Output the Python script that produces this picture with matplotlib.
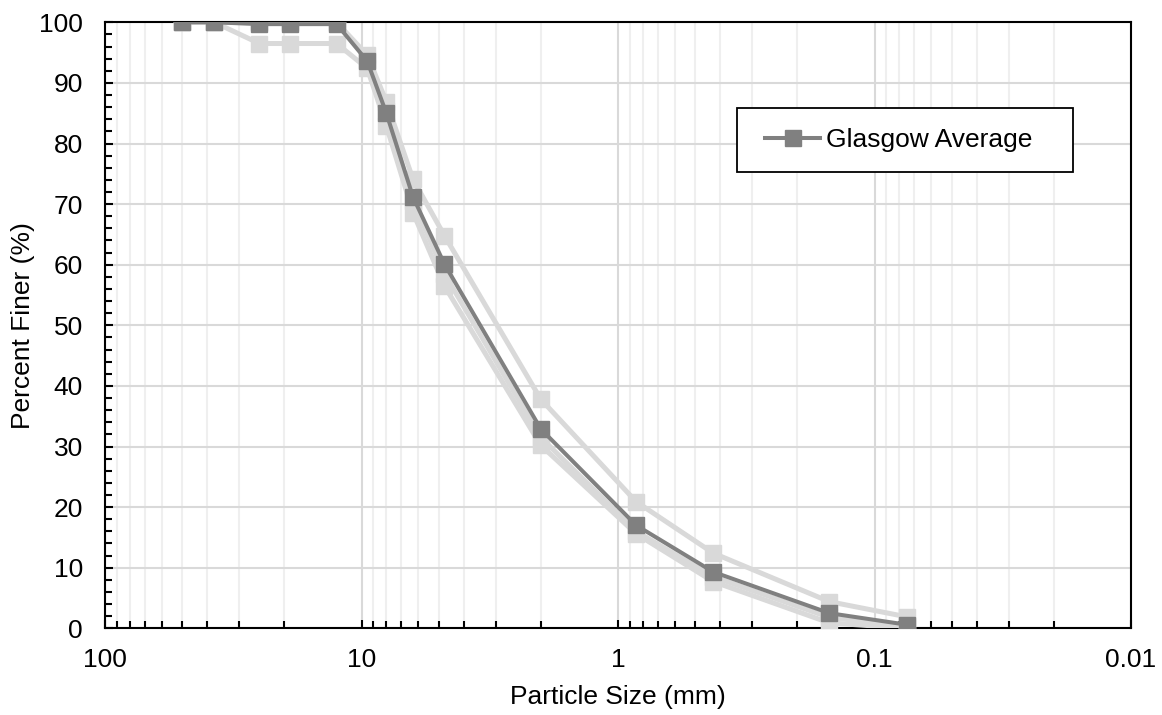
import numpy as np
import matplotlib.pyplot as plt
from matplotlib.patches import Rectangle
from matplotlib.ticker import LogLocator, NullFormatter, FixedLocator, FixedFormatter

plt.rcParams["font.family"] = ["Liberation Sans", "DejaVu Sans"]

# sieve sizes (mm)
sizes = [50, 37.5, 25, 19, 12.5, 9.5, 8, 6.3, 4.75, 2, 0.85, 0.425, 0.15, 0.075]

# individual samples (light grey)
sample_upper = [100, 100, 100, 100, 100, 94.6, 86.9, 74.1, 64.8, 37.8, 20.9, 12.4, 4.4, 1.9]
sample_lower = [100, 100, 96.5, 96.5, 96.5, 92.4, 82.9, 68.6, 56.5, 30.2, 15.6, 7.7, 0.9, 0.0]
sample_mid = [100, 100, 100, 100, 100, 93.8, 85.3, 70.5, 58.5, 31.5, 16.0, 8.5, 1.8, 0.3]

# average curve
glasgow_avg = [100, 100, 99.7, 99.7, 99.7, 93.6, 85.0, 71.2, 60.1, 32.9, 17.0, 9.3, 2.5, 0.6]

x_major = [100, 10, 1, 0.1, 0.01]
x_major_labels = ["100", "10", "1", "0.1", "0.01"]

light = "#d9d9d9"
dark = "#808080"
FS = 19


def main():
    fig = plt.figure(figsize=(11.62, 7.15), dpi=100)
    ax = fig.add_axes([105 / 1162, 86.7 / 715, 1026 / 1162, 606 / 715])

    for s in (sample_lower, sample_mid, sample_upper):
        ax.plot(sizes, s, color=light, lw=3.6, marker="s", ms=11.5,
                mfc=light, mec=light, zorder=3)

    ax.plot(sizes, glasgow_avg, color=dark, lw=2.9, marker="s", ms=11,
            mfc=dark, mec=dark, zorder=4, label="Glasgow Average")

    ax.set_xscale("log")
    ax.set_xlim(100, 0.01)
    ax.set_ylim(0, 100)

    ax.xaxis.set_major_locator(FixedLocator(x_major))
    ax.xaxis.set_major_formatter(FixedFormatter(x_major_labels))
    ax.xaxis.set_minor_locator(LogLocator(base=10, subs=np.arange(2, 10), numticks=20))
    ax.xaxis.set_minor_formatter(NullFormatter())
    ax.set_yticks(np.arange(0, 101, 10))
    ax.set_yticks(np.arange(0, 101, 2), minor=True)

    ax.grid(True, which="major", color="#d9d9d9", lw=1.5, zorder=0)
    ax.grid(True, which="minor", axis="x", color="#efefef", lw=1.5, zorder=0)
    ax.set_axisbelow(True)

    ax.tick_params(axis="both", which="both", direction="in", color="black",
                   labelsize=FS, top=False, right=False)
    ax.tick_params(axis="both", which="major", length=6, width=1.5)
    ax.tick_params(axis="both", which="minor", length=5, width=1.5)
    ax.tick_params(axis="x", which="major", pad=14)
    ax.tick_params(axis="y", which="major", pad=16)

    for sp in ax.spines.values():
        sp.set_color("black")
        sp.set_linewidth(1.5)

    ax.set_xlabel("Particle Size (mm)", fontsize=FS)
    ax.set_ylabel("Percent Finer (%)", fontsize=FS)
    ax.xaxis.set_label_coords(0.5, -0.093)
    ax.yaxis.set_label_coords(-0.068, 0.5)

    # legend box, drawn separately for Excel-like padding
    box = Rectangle((737 / 1162, 1 - 172 / 715), 336 / 1162, 64 / 715,
                    transform=fig.transFigure, facecolor="white",
                    edgecolor="black", lw=1.3, zorder=5, clip_on=False)
    ax.add_patch(box)
    leg = ax.legend(loc="center left", bbox_to_anchor=(765 / 1162, 1 - 140 / 715),
                    bbox_transform=fig.transFigure, borderaxespad=0, frameon=False,
                    fontsize=FS, borderpad=0, handlelength=2.1, handletextpad=0.2)
    leg.set_zorder(6)

    fig.savefig("out.png", dpi=100)


if __name__ == "__main__":
    main()
